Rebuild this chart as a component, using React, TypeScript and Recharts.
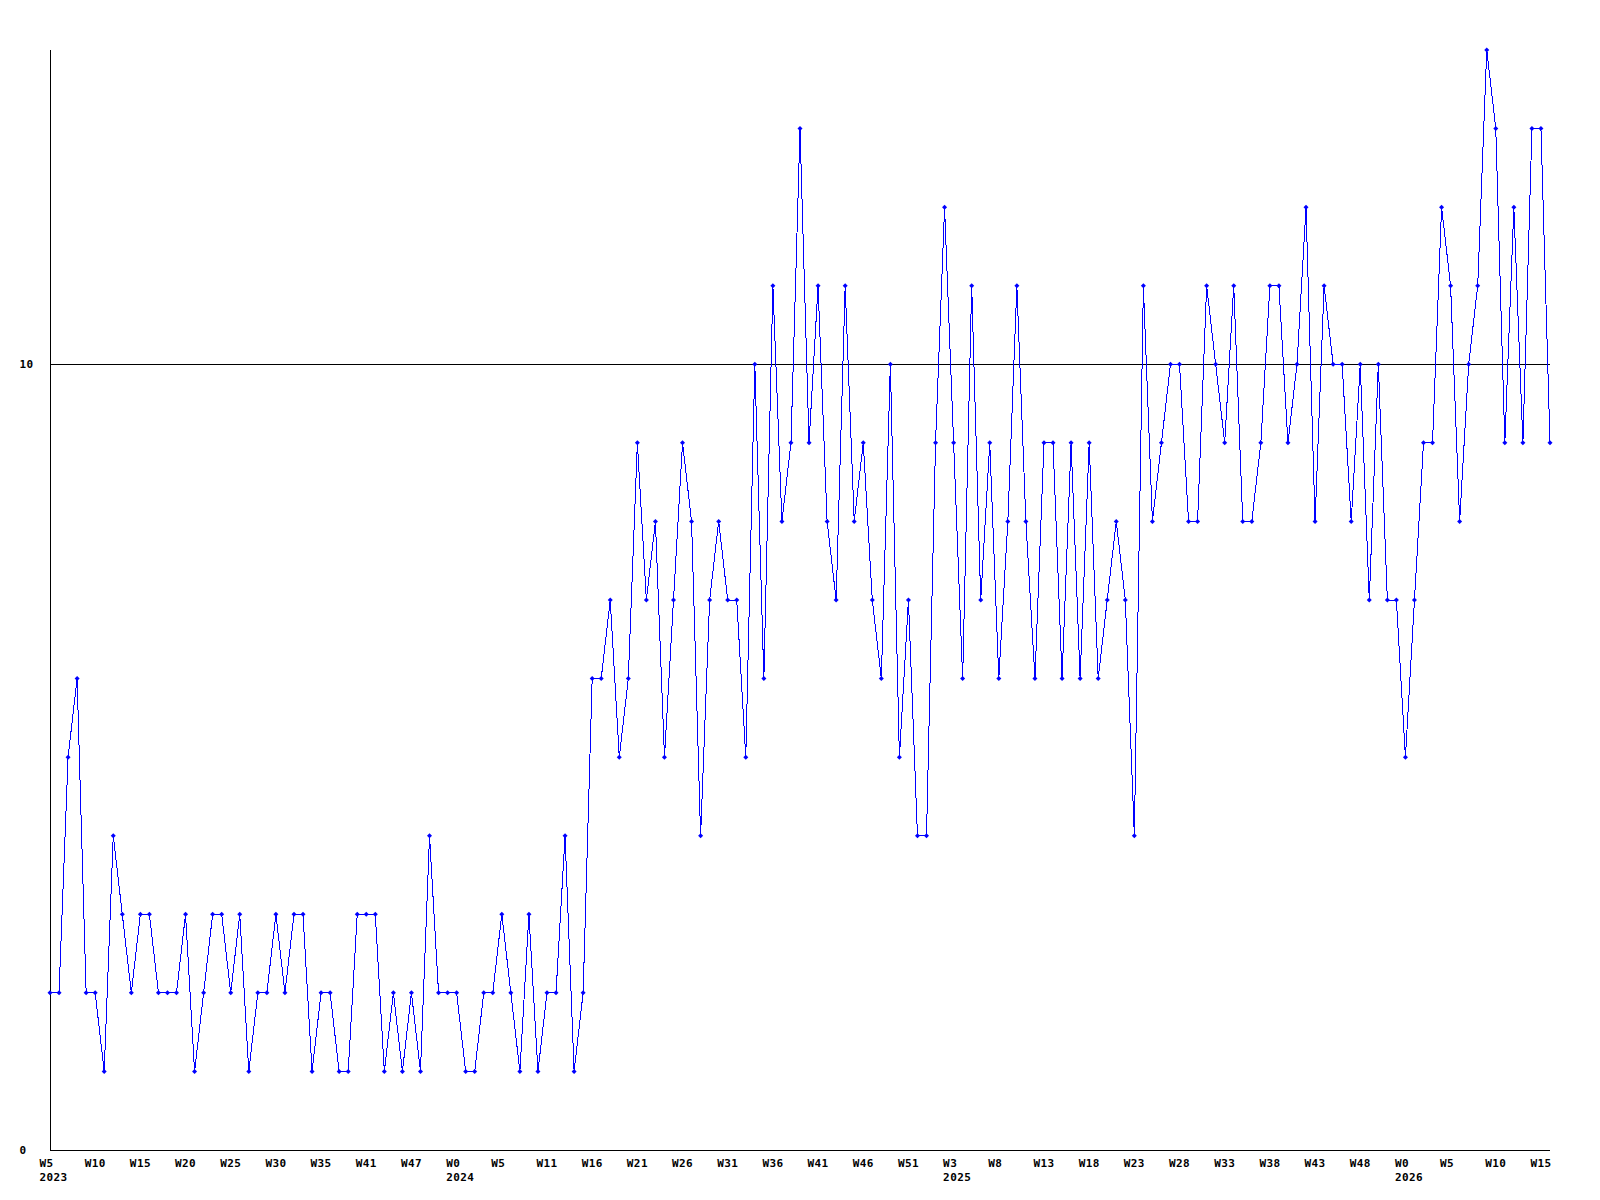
import React from 'react';
import { LineChart, Line, XAxis, YAxis, ReferenceLine } from 'recharts';

// Weekly values, 2023 W5 .. 2026 W16
const values2023: number[] = [
  2, 2, 5, 6, 2, 2, 1, 4, 3, 2, 3, 3, 2, 2, 2, 3, 1, 2, 3, 3, 2, 3, 1, 2, 2, 3, 2, 3, 3, 1,
  2, 2, 1, 1, 3, 3, 3, 1, 2, 1, 2, 1, 4, 2, 2,
];
const values2024: number[] = [
  2, 1, 1, 2, 2, 3, 2, 1, 3, 1, 2, 2, 4, 1, 2, 6, 6, 7, 5, 6, 9, 7, 8, 5, 7, 9, 8, 4, 7, 8,
  7, 7, 5, 10, 6, 11, 8, 9, 13, 9, 11, 8, 7, 11, 8, 9, 7, 6, 10, 5, 7, 4, 4, 9, 12,
];
const values2025: number[] = [
  9, 6, 11, 7, 9, 6, 8, 11, 8, 6, 9, 9, 6, 9, 6, 9, 6, 7, 8, 7, 4, 11, 8, 9, 10, 10, 8, 8, 11, 10,
  9, 11, 8, 8, 9, 11, 11, 9, 10, 12, 8, 11, 10, 10, 8, 10, 7, 10, 7, 7,
];
const values2026: number[] = [5, 7, 9, 9, 12, 11, 8, 10, 11, 14, 13, 9, 12, 9, 13, 13, 9];

const values: number[] = [...values2023, ...values2024, ...values2025, ...values2026];

// Tick labels (one every 5 points)
const tickWeekLabels: string[] = [
  'W5', 'W10', 'W15', 'W20', 'W25', 'W30', 'W35', 'W41', 'W47', 'W0', 'W5', 'W11', 'W16', 'W21',
  'W26', 'W31', 'W36', 'W41', 'W46', 'W51', 'W3', 'W8', 'W13', 'W18', 'W23', 'W28', 'W33', 'W38',
  'W43', 'W48', 'W0', 'W5', 'W10', 'W15',
];
const tickYearLabels: string[] = [
  '2023', '', '', '', '', '', '', '', '', '2024', '', '', '', '', '', '', '', '', '', '', '2025',
  '', '', '', '', '', '', '', '', '', '2026', '', '', '',
];
const yTicks: number[] = [0, 10];
const threshold = 10;

const TICK_STEP = 5;
const data = values.map((v, i) => ({ i, v }));
const xTicks = tickWeekLabels.map((_, k) => k * TICK_STEP);

const FONT = '"DejaVu Sans Mono", monospace';

const XTick = (props: any) => {
  const { x, payload } = props;
  const k = Math.round(payload.value / TICK_STEP);
  const tx = x - 10.5;
  return (
    <g>
      <text x={tx} y={1166.5} fontFamily={FONT} fontWeight="bold" fontSize={11} letterSpacing={0.4} fill="#000" textAnchor="start">
        {tickWeekLabels[k]}
      </text>
      {tickYearLabels[k] ? (
        <text x={tx} y={1181} fontFamily={FONT} fontWeight="bold" fontSize={11} letterSpacing={0.4} fill="#000" textAnchor="start">
          {tickYearLabels[k]}
        </text>
      ) : null}
    </g>
  );
};

const YTick = (props: any) => {
  const { y, payload } = props;
  return (
    <text x={19.5} y={y + 4} fontFamily={FONT} fontWeight="bold" fontSize={11} letterSpacing={0.4} fill="#000" textAnchor="start">
      {payload.value}
    </text>
  );
};

const Marker = (props: any) => {
  const { cx, cy, index } = props;
  if (cx == null || cy == null) return <g key={index} />;
  const r = 2.5;
  return (
    <polygon
      key={index}
      points={`${cx},${cy - r} ${cx + r},${cy} ${cx},${cy + r} ${cx - r},${cy}`}
      fill="#0000ff"
      stroke="none"
    />
  );
};

export default function App() {
  return (
    <div style={{ position: 'absolute', left: 0, top: 0, width: 1600, height: 1200, background: '#fff' }}>
      <LineChart width={1600} height={1200} data={data} margin={{ top: 50, right: 50, bottom: 0, left: 0 }}>
        <XAxis
          dataKey="i"
          type="number"
          domain={[0, values.length - 1]}
          ticks={xTicks}
          interval={0}
          tickLine={false}
          axisLine={{ stroke: '#000', strokeWidth: 1, shapeRendering: 'crispEdges' }}
          height={50}
          tick={<XTick />}
        />
        <YAxis
          type="number"
          domain={[0, 14]}
          ticks={yTicks}
          interval={0}
          tickLine={false}
          axisLine={{ stroke: '#000', strokeWidth: 1, shapeRendering: 'crispEdges' }}
          width={50}
          tick={<YTick />}
        />
        <ReferenceLine y={threshold} stroke="#000" strokeWidth={1} shapeRendering="crispEdges" />
        <Line
          type="linear"
          dataKey="v"
          stroke="#0000ff"
          strokeWidth={1}
          shapeRendering="crispEdges"
          dot={Marker}
          activeDot={false}
          isAnimationActive={false}
        />
      </LineChart>
    </div>
  );
}
